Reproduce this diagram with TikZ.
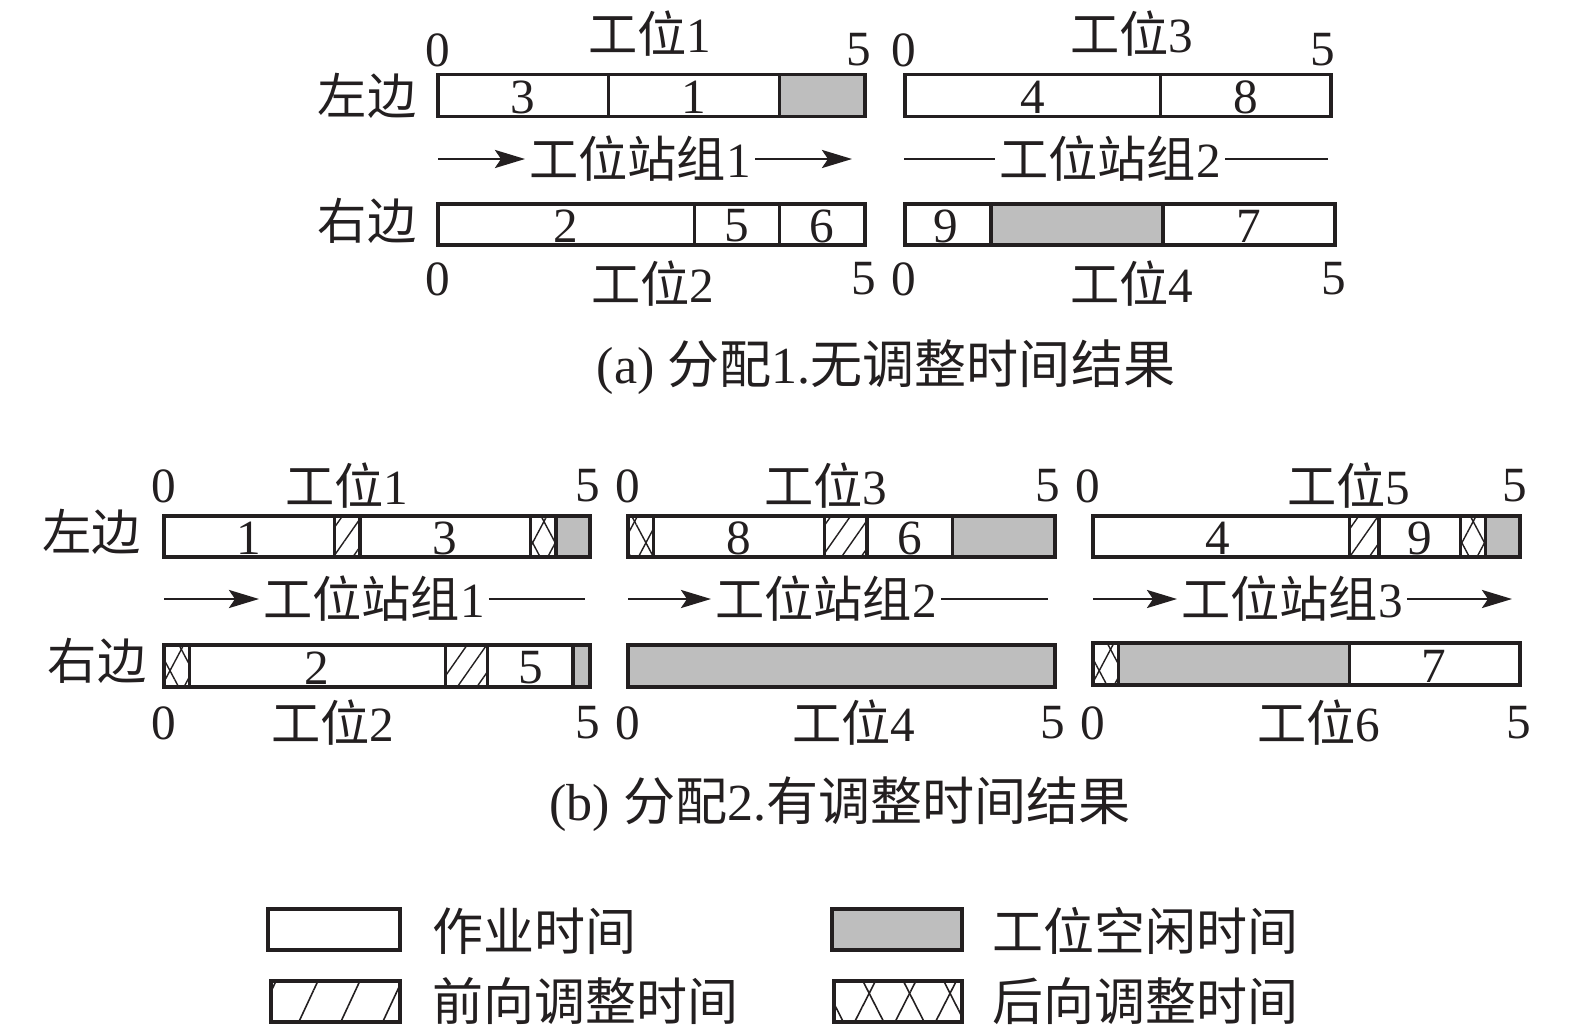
\documentclass[tikz,border=0pt]{standalone}
\usepackage{fontspec}
\setmainfont{Liberation Serif}
\newfontfamily\cjk{Noto Sans CJK SC}
\usetikzlibrary{arrows.meta,patterns.meta}
\definecolor{idlefill}{HTML}{BEBEBE}
\definecolor{ink}{HTML}{231F20}

\begin{document}
\begin{tikzpicture}[
  x=0.01cm, y=-0.01cm,
  font=\fontsize{14}{17}\selectfont, text=ink,
  seg/.style={draw=ink, line width=0.95pt},
  idle/.style={seg, fill=idlefill},
  fwd/.style={seg, pattern={Lines[angle=55, distance=1.6mm, line width=0.4pt]}, pattern color=ink},
  bwd/.style={seg, pattern={Lines[angle=62, distance=2mm, line width=0.4pt]}, pattern color=ink,
    postaction={pattern={Lines[angle=118, distance=2mm, line width=0.4pt]}, pattern color=ink}},
  legfwd/.style={seg, line width=1.1pt, pattern={Lines[angle=65, distance=3.8mm, line width=0.45pt]}, pattern color=ink},
  legbwd/.style={seg, line width=1.1pt, pattern={Lines[angle=63, distance=3.6mm, line width=0.45pt]}, pattern color=ink,
    postaction={pattern={Lines[angle=117, distance=3.6mm, line width=0.45pt]}, pattern color=ink}},
  tick/.style={inner sep=0pt},
  side/.style={inner sep=0pt, font=\fontsize{14}{17}\selectfont\cjk},
  group/.style={inner sep=1pt},
  legtext/.style={inner sep=0pt, anchor=west, font=\fontsize{14.5}{17}\selectfont\cjk},
  caption/.style={inner sep=0pt, font=\fontsize{14.8}{17}\selectfont},
  arrow/.style={-{Stealth[length=3mm, width=1.8mm, inset=0.6mm]}, line width=0.75pt, ink},
  plain/.style={line width=0.75pt, ink}
]
  \fill[white] (0,0) rectangle (1575,1033);

  % (a) allocation 1
  \node[side] (a-left) at (367,96) {左边};
  \node[side] (a-right) at (367,221) {右边};

  \draw[seg] (438,74.5) rectangle (608.8,116.5);
  \draw[seg] (608.8,74.5) rectangle (779.6,116.5);
  \draw[idle] (779.6,74.5) rectangle (865,116.5);
  \node[tick] (a-w1-j3) at (523,97) {3};
  \node[tick] (a-w1-j1) at (694,97) {1};
  \node[tick] (a-w1-0) at (438,50) {0};
  \node[tick] (a-w1-5) at (859,50) {5};
  \node[tick] (a-w1) at (650,34) {{\cjk 工位}1};

  \draw[seg] (438,204) rectangle (694.2,245);
  \draw[seg] (694.2,204) rectangle (779.6,245);
  \draw[seg] (779.6,204) rectangle (865,245);
  \node[tick] (a-w2-j2) at (566,226) {2};
  \node[tick] (a-w2-j5) at (737,226) {5};
  \node[tick] (a-w2-j6) at (822,226) {6};
  \node[tick] (a-w2-0) at (438,279) {0};
  \node[tick] (a-w2-5) at (864,279) {5};
  \node[tick] (a-w2) at (653,284) {{\cjk 工位}2};

  \draw[seg] (905,74.5) rectangle (1160.6,116.5);
  \draw[seg] (1160.6,74.5) rectangle (1331,116.5);
  \node[tick] (a-w3-j4) at (1033,97) {4};
  \node[tick] (a-w3-j8) at (1246,97) {8};
  \node[tick] (a-w3-0) at (904,50) {0};
  \node[tick] (a-w3-5) at (1323,50) {5};
  \node[tick] (a-w3) at (1132,34) {{\cjk 工位}3};

  \draw[seg] (905,204) rectangle (991,245);
  \draw[idle] (991,204) rectangle (1163,245);
  \draw[seg] (1163,204) rectangle (1335,245);
  \node[tick] (a-w4-j9) at (946,226) {9};
  \node[tick] (a-w4-j7) at (1249,226) {7};
  \node[tick] (a-w4-0) at (904,279) {0};
  \node[tick] (a-w4-5) at (1334,279) {5};
  \node[tick] (a-w4) at (1132,284) {{\cjk 工位}4};

  \coordinate (a-g1-in) at (438,159);
  \coordinate (a-g1-out) at (852,159);
  \node[group] (a-g1) at (640,159) {{\cjk 工位站组}1};
  \draw[arrow] (a-g1-in) -- (a-g1.west);
  \draw[arrow] (a-g1.east) -- (a-g1-out);
  \coordinate (a-g2-in) at (904,159);
  \coordinate (a-g2-out) at (1328,159);
  \node[group] (a-g2) at (1110,159) {{\cjk 工位站组}2};
  \draw[plain] (a-g2-in) -- (a-g2.west);
  \draw[plain] (a-g2.east) -- (a-g2-out);

  \node[caption] (a-cap) at (886,367) {(a) {\cjk 分配}1.{\cjk 无调整时间结果}};

  % (b) allocation 2
  \node[side] (b-left) at (92,532) {左边};
  \node[side] (b-right) at (97,661) {右边};

  \draw[seg] (164,516) rectangle (334.4,557);
  \draw[fwd] (334.4,516) rectangle (360,557);
  \draw[seg] (360,516) rectangle (530.4,557);
  \draw[bwd] (530.4,516) rectangle (556,557);
  \draw[idle] (556,516) rectangle (590,557);
  \node[tick] (b-w1-j1) at (249,538) {1};
  \node[tick] (b-w1-j3) at (445,538) {3};
  \node[tick] (b-w1-0) at (164,486) {0};
  \node[tick] (b-w1-5) at (588,486) {5};
  \node[tick] (b-w1) at (347,486) {{\cjk 工位}1};

  \draw[bwd] (164,645) rectangle (189.6,687);
  \draw[seg] (189.6,645) rectangle (445.2,687);
  \draw[fwd] (445.2,645) rectangle (487.8,687);
  \draw[seg] (487.8,645) rectangle (573,687);
  \draw[idle] (573,645) rectangle (590,687);
  \node[tick] (b-w2-j2) at (317,668) {2};
  \node[tick] (b-w2-j5) at (531,668) {5};
  \node[tick] (b-w2-0) at (164,723) {0};
  \node[tick] (b-w2-5) at (588,723) {5};
  \node[tick] (b-w2) at (333,723) {{\cjk 工位}2};

  \draw[bwd] (628,516) rectangle (653.6,557);
  \draw[seg] (653.6,516) rectangle (824.4,557);
  \draw[fwd] (824.4,516) rectangle (867.1,557);
  \draw[seg] (867.1,516) rectangle (952.5,557);
  \draw[idle] (952.5,516) rectangle (1055,557);
  \node[tick] (b-w3-j8) at (739,538) {8};
  \node[tick] (b-w3-j6) at (910,538) {6};
  \node[tick] (b-w3-0) at (628,486) {0};
  \node[tick] (b-w3-5) at (1048,486) {5};
  \node[tick] (b-w3) at (826,486) {{\cjk 工位}3};

  \draw[idle] (628,645) rectangle (1055,687);
  \node[tick] (b-w4-0) at (628,723) {0};
  \node[tick] (b-w4-5) at (1053,723) {5};
  \node[tick] (b-w4) at (854,723) {{\cjk 工位}4};

  \draw[seg] (1093,516) rectangle (1349.2,557);
  \draw[fwd] (1349.2,516) rectangle (1379,557);
  \draw[seg] (1379,516) rectangle (1460.2,557);
  \draw[bwd] (1460.2,516) rectangle (1485.8,557);
  \draw[idle] (1485.8,516) rectangle (1520,557);
  \node[tick] (b-w5-j4) at (1218,538) {4};
  \node[tick] (b-w5-j9) at (1420,538) {9};
  \node[tick] (b-w5-0) at (1088,486) {0};
  \node[tick] (b-w5-5) at (1515,486) {5};
  \node[tick] (b-w5) at (1349,486) {{\cjk 工位}5};

  \draw[bwd] (1093,643) rectangle (1118.6,685);
  \draw[idle] (1118.6,643) rectangle (1349.2,685);
  \draw[seg] (1349.2,643) rectangle (1520,685);
  \node[tick] (b-w6-j7) at (1434,666) {7};
  \node[tick] (b-w6-0) at (1093,723) {0};
  \node[tick] (b-w6-5) at (1519,723) {5};
  \node[tick] (b-w6) at (1319,723) {{\cjk 工位}6};

  \coordinate (b-g1-in) at (164,599);
  \coordinate (b-g1-out) at (585,599);
  \node[group] (b-g1) at (374,599) {{\cjk 工位站组}1};
  \draw[arrow] (b-g1-in) -- (b-g1.west);
  \draw[plain] (b-g1.east) -- (b-g1-out);
  \coordinate (b-g2-in) at (628,599);
  \coordinate (b-g2-out) at (1048,599);
  \node[group] (b-g2) at (826,599) {{\cjk 工位站组}2};
  \draw[arrow] (b-g2-in) -- (b-g2.west);
  \draw[plain] (b-g2.east) -- (b-g2-out);
  \coordinate (b-g3-in) at (1093,599);
  \coordinate (b-g3-out) at (1512,599);
  \node[group] (b-g3) at (1292,599) {{\cjk 工位站组}3};
  \draw[arrow] (b-g3-in) -- (b-g3.west);
  \draw[arrow] (b-g3.east) -- (b-g3-out);

  \node[caption] (b-cap) at (840,804) {(b) {\cjk 分配}2.{\cjk 有调整时间结果}};

  % legend
  \draw[seg, line width=1.1pt] (268,909) rectangle (400,950);
  \node[legtext] (key-work) at (432,931) {作业时间};
  \draw[idle, line width=1.1pt] (832,909) rectangle (962,950);
  \node[legtext] (key-idle) at (992,931) {工位空闲时间};
  \draw[legfwd] (271,981) rectangle (400,1022);
  \node[legtext] (key-fwd) at (432,1001) {前向调整时间};
  \draw[legbwd] (834,981) rectangle (962,1022);
  \node[legtext] (key-bwd) at (992,1001) {后向调整时间};
\end{tikzpicture}
\end{document}
